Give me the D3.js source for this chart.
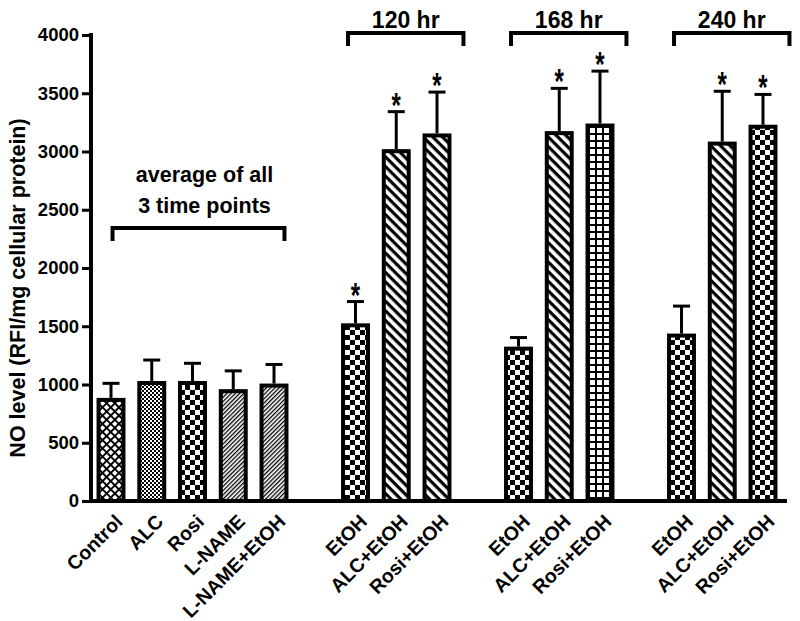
<!DOCTYPE html>
<html><head><meta charset="utf-8">
<script src="https://cdn.jsdelivr.net/npm/d3@7"></script>
<style>
body{margin:0;background:#fff}
text{font-family:"Liberation Sans",Arial,sans-serif;font-weight:bold;fill:#000}
</style>
</head><body>
<svg id="chart" width="800" height="621"></svg>
<script>
// ---- data ----
const slots = ["Control","ALC","Rosi","L-NAME","L-NAME+EtOH","gap1",
  "EtOH@120","ALC+EtOH@120","Rosi+EtOH@120","gap2",
  "EtOH@168","ALC+EtOH@168","Rosi+EtOH@168","gap3",
  "EtOH@240","ALC+EtOH@240","Rosi+EtOH@240"];
const barIds = ["Control","ALC","Rosi","L-NAME","L-NAME+EtOH",
  "EtOH@120","ALC+EtOH@120","Rosi+EtOH@120",
  "EtOH@168","ALC+EtOH@168","Rosi+EtOH@168",
  "EtOH@240","ALC+EtOH@240","Rosi+EtOH@240"];
const barLabels = ["Control","ALC","Rosi","L-NAME","L-NAME+EtOH",
  "EtOH","ALC+EtOH","Rosi+EtOH",
  "EtOH","ALC+EtOH","Rosi+EtOH",
  "EtOH","ALC+EtOH","Rosi+EtOH"];
const means = [885,1030,1030,960,1008, 1525,3020,3155, 1325,3175,3240, 1437,3085,3230];
const upper = [1010,1210,1182,1117,1172, 1712,3342,3510, 1403,3542,3690, 1673,3517,3490];
const patterns = ["diamond","fineCheck","check","thinDiag","thinDiag",
  "check","thickDiag","thickDiag",
  "check","thickDiag","grid",
  "check","thickDiag","check"];
const significant = [false,false,false,false,false, true,true,true, false,true,true, false,true,true];
const yTicks = [0,500,1000,1500,2000,2500,3000,3500,4000];
const bracketLabels = [["average of all","3 time points"],["120 hr"],["168 hr"],["240 hr"]];
const bracketFrom = ["Control","EtOH@120","EtOH@168","EtOH@240"];
const bracketTo = ["L-NAME+EtOH","Rosi+EtOH@120","Rosi+EtOH@168","Rosi+EtOH@240"];
const bracketLevel = [2343,4017,4017,4017];
const yTitle = "NO level (RFI/mg cellular protein)";

// ---- layout ----
const svg = d3.select("#chart");
const x = d3.scaleBand().domain(slots).range([89,785]).paddingInner(0.29).paddingOuter(0.185);
const y = d3.scaleLinear().domain([0,4000]).range([501,35]);
const bw = x.bandwidth();

// ---- patterns ----
const defs = svg.append("defs");
function pat(id,w,h,tr){
  const p = defs.append("pattern").attr("id",id).attr("patternUnits","userSpaceOnUse")
    .attr("width",w).attr("height",h);
  if(tr) p.attr("patternTransform",tr);
  p.append("rect").attr("width",w).attr("height",h).attr("fill","#fff");
  return p;
}
let p = pat("diamond",5.8,5.8,"rotate(45)");
p.append("rect").attr("width",5.8).attr("height",1.9).attr("fill","#000");
p.append("rect").attr("width",1.9).attr("height",5.8).attr("fill","#000");
p = pat("fineCheck",4,4);
p.append("rect").attr("width",2).attr("height",2).attr("fill","#000");
p.append("rect").attr("x",2).attr("y",2).attr("width",2).attr("height",2).attr("fill","#000");
p = pat("check",10,10);
p.append("rect").attr("width",5).attr("height",5).attr("fill","#000");
p.append("rect").attr("x",5).attr("y",5).attr("width",5).attr("height",5).attr("fill","#000");
p = pat("thinDiag",3,3,"rotate(45)");
p.append("rect").attr("width",1.3).attr("height",3).attr("fill","#000");
p = pat("thickDiag",6.8,6.8,"rotate(45)");
p.append("rect").attr("width",6.8).attr("height",3.2).attr("fill","#000");
p = pat("grid",7,7);
p.append("rect").attr("width",7).attr("height",2).attr("fill","#000");
p.append("rect").attr("width",2).attr("height",7).attr("fill","#000");

// ---- bars ----
const data = barIds.map((id,i)=>({id,label:barLabels[i],mean:means[i],up:upper[i],pat:patterns[i],sig:significant[i]}));
const sw = 4;
svg.append("g").selectAll("rect").data(data).join("rect")
  .attr("x",d=>x(d.id)+sw/2).attr("width",bw-sw)
  .attr("y",d=>y(d.mean)+sw/2).attr("height",d=>y(0)-y(d.mean)-sw/2)
  .attr("fill",d=>`url(#${d.pat})`).attr("stroke","#000").attr("stroke-width",sw);

// error bars
const eb = svg.append("g").attr("stroke","#000").attr("stroke-width",3);
eb.selectAll("line.v").data(data).join("line").attr("class","v")
  .attr("x1",d=>x(d.id)+bw/2).attr("x2",d=>x(d.id)+bw/2)
  .attr("y1",d=>y(d.mean)).attr("y2",d=>y(d.up));
eb.selectAll("line.c").data(data).join("line").attr("class","c")
  .attr("x1",d=>x(d.id)+bw/2-8.5).attr("x2",d=>x(d.id)+bw/2+8.5)
  .attr("y1",d=>y(d.up)).attr("y2",d=>y(d.up));

// asterisks
svg.append("g").selectAll("text").data(data.filter(d=>d.sig)).join("text")
  .attr("transform",d=>`translate(${x(d.id)+bw/2},${y(d.up)+5}) scale(0.8,1.15)`)
  .attr("text-anchor","middle").style("font-size","30px").text("*");

// ---- axes ----
const yAxis = d3.axisLeft(y).tickValues(yTicks).tickSize(9).tickPadding(3).tickFormat(d3.format("d"));
const gy = svg.append("g").attr("transform","translate(91,0)").call(yAxis);
gy.select(".domain").remove();
gy.selectAll(".tick line").attr("stroke","#000").attr("stroke-width",3);
gy.selectAll(".tick text").style("font-size","18.5px").style("font-family",'"Liberation Sans",Arial,sans-serif').style("font-weight","bold").attr("fill","#000");
svg.append("line").attr("x1",91).attr("x2",91).attr("y1",y(4000)-2).attr("y2",y(0)+2)
  .attr("stroke","#000").attr("stroke-width",4);
svg.append("line").attr("x1",89).attr("x2",787).attr("y1",y(0)).attr("y2",y(0))
  .attr("stroke","#000").attr("stroke-width",4);

// x labels
svg.append("g").selectAll("text").data(data).join("text")
  .attr("transform",d=>`translate(${x(d.id)+bw/2+8},${y(0)+17}) rotate(-45)`)
  .attr("text-anchor","end").attr("dy","0.35em").style("font-size","19.5px").text(d=>d.label);

// y title
svg.append("text").attr("transform",`translate(25,${(y(0)+y(4000))/2+20}) rotate(-90)`)
  .attr("text-anchor","middle").style("font-size","21.5px").text(yTitle);

// ---- brackets ----
const br = bracketLabels.map((lab,i)=>{
  const left = i===0 ? x(bracketFrom[i])+16 : x(bracketFrom[i])+7;
  const right = i===0 ? x(bracketTo[i])+bw-4 : x(bracketTo[i])+bw+12;
  return {lab,left,right,yy:y(bracketLevel[i]),first:i===0};
});
const bg = svg.append("g");
bg.selectAll("path").data(br).join("path")
  .attr("d",d=>`M${d.left},${d.yy+13}V${d.yy}H${d.right}V${d.yy+13}`)
  .attr("fill","none").attr("stroke","#000").attr("stroke-width",4).attr("stroke-linejoin","miter");
br.forEach(d=>{
  d.lab.forEach((t,j)=>{
    svg.append("text").attr("x",(d.left+d.right)/2+(d.first?6:0))
      .attr("y",d.first ? d.yy-46+j*31 : d.yy-5)
      .attr("text-anchor","middle").style("font-size",d.first?"21.5px":"23px").text(t);
  });
});
</script>
</body></html>
